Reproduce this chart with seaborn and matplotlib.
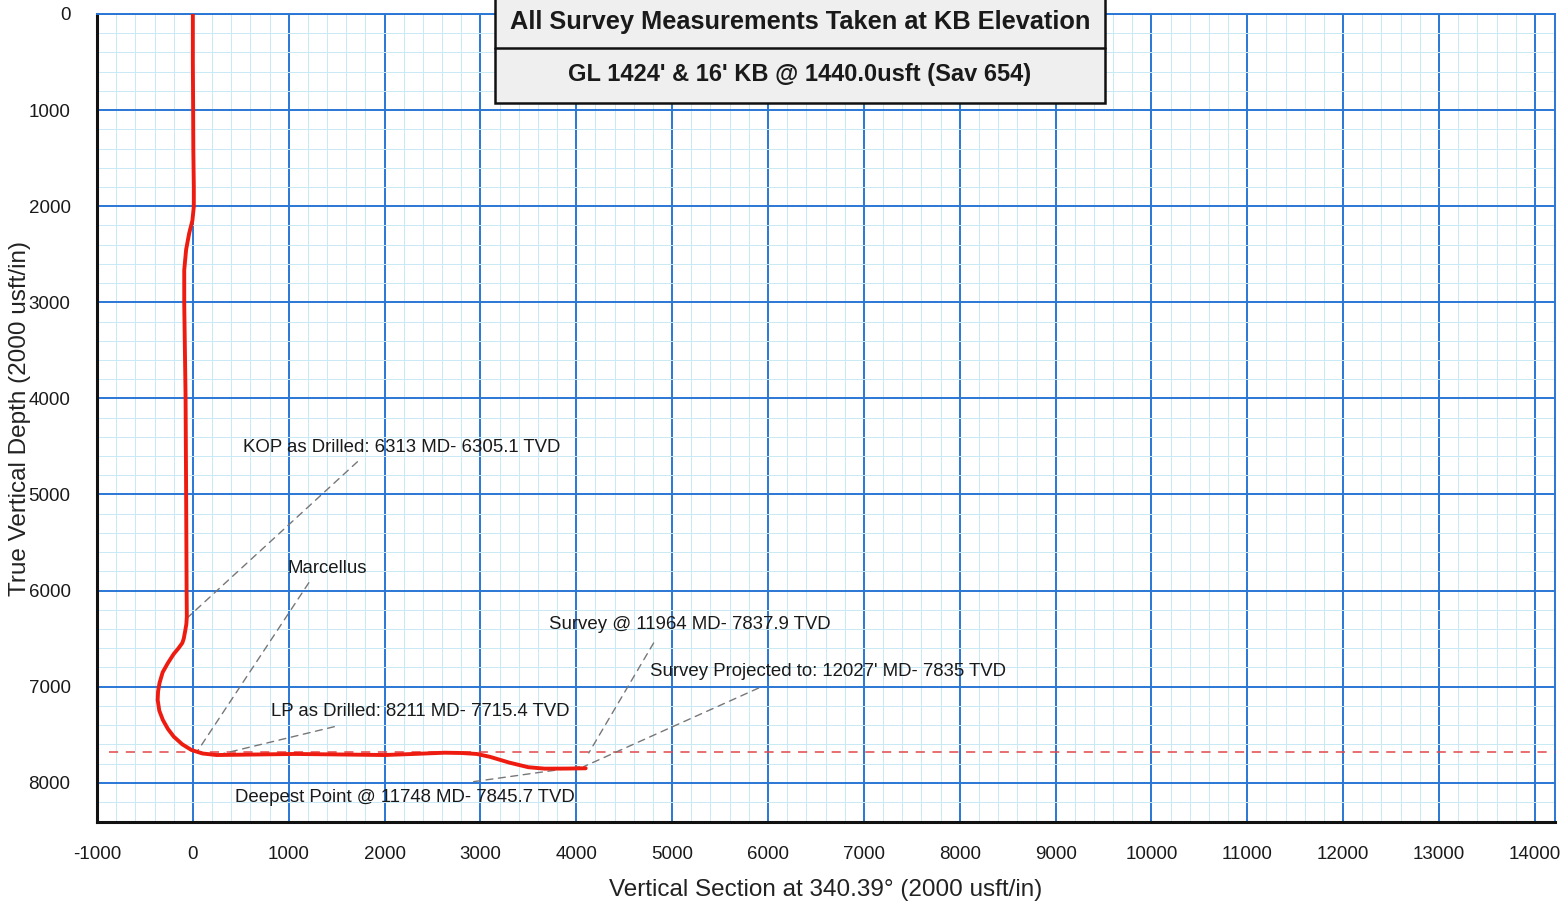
import matplotlib
matplotlib.use("Agg")
import matplotlib.pyplot as plt
from matplotlib.patches import Rectangle
from matplotlib.lines import Line2D
from matplotlib.ticker import MultipleLocator
import numpy as np
import pandas as pd
import seaborn as sns

# ---- data ----
vertical_section = [0, 0, 3, 5, 10, 10, -5, -38, -70, -90, -90, -76, -70, -65, -63,
                    -68, -80, -95, -110, -150, -200, -260, -315, -348, -363, -367, -350,
                    -313, -260, -199, -110, -14, 100, 247, 700, 1064, 1500, 1998,
                    2300, 2628, 2800, 2962, 3100, 3301, 3500, 3671, 3900, 4098]
tvd = [0, 500, 1000, 1415, 1800, 2005, 2150, 2280, 2450, 2664, 3010, 3982, 5023, 6025, 6271,
       6350, 6420, 6500, 6545, 6600, 6660, 6753, 6850, 6962, 7050, 7138, 7250,
       7346, 7440, 7520, 7600, 7659, 7695, 7711, 7705, 7700, 7705, 7711,
       7700, 7687, 7690, 7700, 7730, 7790, 7838, 7853, 7852, 7849]
target_tvd = 7680

annot_texts = ["KOP as Drilled: 6313 MD- 6305.1 TVD",
               "Marcellus",
               "Survey @ 11964 MD- 7837.9 TVD",
               "Survey Projected to: 12027' MD- 7835 TVD",
               "LP as Drilled: 8211 MD- 7715.4 TVD",
               "Deepest Point @ 11748 MD- 7845.7 TVD"]
annot_text_x = [521, 991, 3712, 4765, 813, 438]
annot_text_y = [4506, 5765, 6348, 6837, 7253, 8148]
leader_from_x = [1717, 1210, 4807, 5902, 1476, 2929]
leader_from_y = [4659, 5918, 6545, 7014, 7416, 7988]
leader_to_x = [-60, 55, 4130, 4077, 300, 4046]
leader_to_y = [6285, 7660, 7690, 7832, 7700, 7832]

title_lines = ["All Survey Measurements Taken at KB Elevation",
               "GL 1424' & 16' KB @ 1440.0usft (Sav 654)"]
x_label = "Vertical Section at 340.39° (2000 usft/in)"
y_label = "True Vertical Depth (2000 usft/in)"

# ---- style ----
sns.set_style("white")
plt.rcParams['font.family'] = ['Liberation Sans', 'DejaVu Sans']
plt.rcParams['axes.unicode_minus'] = False

fig = plt.figure(figsize=(15.68, 9.02), dpi=100)
ax = fig.add_axes([97/1568, 1-822/902, 1458/1568, 808/902])

df = pd.DataFrame({"vs": vertical_section, "tvd": tvd})
sns.lineplot(data=df, x="vs", y="tvd", sort=False, estimator=None,
             color="#ee1c10", linewidth=2.8, ax=ax, zorder=5)
for ln in ax.get_lines():
    ln.set_solid_joinstyle('round')
    ln.set_solid_capstyle('round')

ax.set_xlim(-1000, 14210)
ax.set_ylim(8408, 0)

ax.xaxis.set_major_locator(MultipleLocator(1000))
ax.xaxis.set_minor_locator(MultipleLocator(200))
ax.yaxis.set_major_locator(MultipleLocator(1000))
ax.yaxis.set_minor_locator(MultipleLocator(200))

ax.grid(which='minor', color='#c8e9f5', linewidth=0.7, zorder=0)
ax.grid(which='major', color='#2a76d6', linewidth=1.4, zorder=1)
ax.set_axisbelow(True)

ax.tick_params(axis='both', which='major', direction='out', length=11, width=1.6,
               color='#111111', labelsize=13.5, pad=6, labelcolor='#1a1a1a')
ax.tick_params(axis='both', which='minor', direction='out', length=6, width=1.2,
               color='#111111')
ax.tick_params(axis='y', which='major', length=15, pad=4)
ax.tick_params(axis='y', which='minor', length=8)

for s in ['left', 'bottom']:
    ax.spines[s].set_color('#111111')
    ax.spines[s].set_linewidth(2.2)
for s in ['top', 'right']:
    ax.spines[s].set_color('#2a76d6')
    ax.spines[s].set_linewidth(1.4)

ax.set_xlabel(x_label, fontsize=17.5, color='#222222', labelpad=12)
ax.set_ylabel(y_label, fontsize=17.5, color='#222222', labelpad=-2)

# target line
ax.hlines(target_tvd, -870, 14210, colors='#e2464a', linestyles=(0, (6, 5)),
          linewidth=1.1, zorder=3)

# annotations
for t, tx, ty, fx, fy, ex, ey in zip(annot_texts, annot_text_x, annot_text_y,
                                     leader_from_x, leader_from_y, leader_to_x, leader_to_y):
    ax.text(tx, ty, t, fontsize=13.4, color='#1a1a1a', ha='left', va='center', zorder=6)
    ax.annotate('', xy=(ex, ey), xytext=(fx, fy),
                arrowprops=dict(arrowstyle='-', color='#777777', linestyle=(0, (5, 4)),
                                linewidth=1.0, shrinkA=0, shrinkB=0), zorder=4)

# title box
x0, x1 = 495/1568, 1105/1568
ybot, ymid = 1-103/902, 1-48/902
fig.add_artist(Rectangle((x0, ybot), x1-x0, 1.02-ybot, transform=fig.transFigure,
                         facecolor='#efefef', edgecolor='#111111', linewidth=1.8,
                         zorder=10, clip_on=False))
fig.add_artist(Line2D([x0, x1], [ymid, ymid], transform=fig.transFigure,
                      color='#111111', linewidth=1.8, zorder=11))
fig.text((x0+x1)/2, 1-22/902, title_lines[0], ha='center', va='center',
         fontsize=18.3, fontweight='bold', color='#1a1a1a', zorder=12)
fig.text((x0+x1)/2, 1-75/902, title_lines[1], ha='center', va='center',
         fontsize=17, fontweight='bold', color='#1a1a1a', zorder=12)

fig.savefig("out.png", dpi=100)
